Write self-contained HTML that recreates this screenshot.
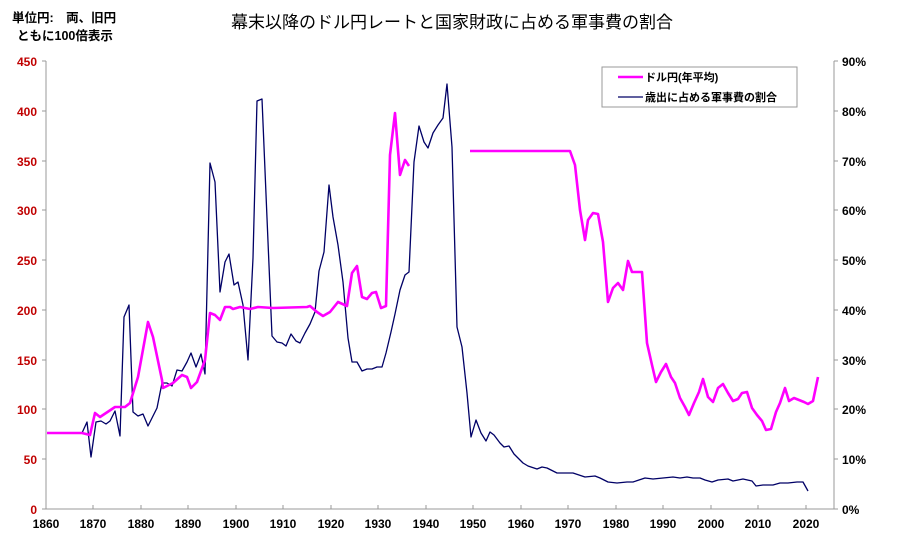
<!DOCTYPE html>
<html><head><meta charset="utf-8"><style>
body{margin:0;background:#fff;width:900px;height:550px;overflow:hidden}
text{font-family:"Liberation Sans","Noto Sans CJK JP",sans-serif}
</style></head><body>
<svg width="900" height="550" viewBox="0 0 900 550">
<text x="452" y="28" font-size="17" text-anchor="middle" fill="#000">幕末以降のドル円レートと国家財政に占める軍事費の割合</text>
<text x="12" y="22" font-size="12.5" font-weight="bold" fill="#000">単位円:　両、旧円</text>
<text x="17" y="40" font-size="12.5" font-weight="bold" fill="#000">ともに100倍表示</text>
<g stroke="#999" stroke-width="1" fill="none">
<line x1="46" y1="61" x2="46" y2="509"/><line x1="46" y1="509" x2="834" y2="509"/><line x1="834" y1="61" x2="834" y2="509"/>
</g>
<g stroke="#999" stroke-width="1">
<line x1="42" y1="61" x2="46" y2="61"/><line x1="42" y1="111" x2="46" y2="111"/><line x1="42" y1="161" x2="46" y2="161"/><line x1="42" y1="210" x2="46" y2="210"/><line x1="42" y1="260" x2="46" y2="260"/><line x1="42" y1="310" x2="46" y2="310"/><line x1="42" y1="360" x2="46" y2="360"/><line x1="42" y1="409" x2="46" y2="409"/><line x1="42" y1="459" x2="46" y2="459"/><line x1="42" y1="509" x2="46" y2="509"/>
<line x1="834" y1="61" x2="838" y2="61"/><line x1="834" y1="111" x2="838" y2="111"/><line x1="834" y1="161" x2="838" y2="161"/><line x1="834" y1="210" x2="838" y2="210"/><line x1="834" y1="260" x2="838" y2="260"/><line x1="834" y1="310" x2="838" y2="310"/><line x1="834" y1="360" x2="838" y2="360"/><line x1="834" y1="409" x2="838" y2="409"/><line x1="834" y1="459" x2="838" y2="459"/><line x1="834" y1="509" x2="838" y2="509"/>
<line x1="93" y1="509" x2="93" y2="505"/><line x1="141" y1="509" x2="141" y2="505"/><line x1="188" y1="509" x2="188" y2="505"/><line x1="236" y1="509" x2="236" y2="505"/><line x1="283" y1="509" x2="283" y2="505"/><line x1="331" y1="509" x2="331" y2="505"/><line x1="378" y1="509" x2="378" y2="505"/><line x1="426" y1="509" x2="426" y2="505"/><line x1="473" y1="509" x2="473" y2="505"/><line x1="521" y1="509" x2="521" y2="505"/><line x1="568" y1="509" x2="568" y2="505"/><line x1="616" y1="509" x2="616" y2="505"/><line x1="663" y1="509" x2="663" y2="505"/><line x1="711" y1="509" x2="711" y2="505"/><line x1="758" y1="509" x2="758" y2="505"/><line x1="806" y1="509" x2="806" y2="505"/>
</g>
<g font-size="12" font-weight="bold" fill="#c00000" text-anchor="end">
<text x="37" y="66">450</text><text x="37" y="116">400</text><text x="37" y="166">350</text><text x="37" y="215">300</text><text x="37" y="265">250</text><text x="37" y="315">200</text><text x="37" y="365">150</text><text x="37" y="414">100</text><text x="37" y="464">50</text><text x="37" y="514">0</text>
</g>
<g font-size="12" font-weight="bold" fill="#000">
<text x="842" y="66">90%</text><text x="842" y="116">80%</text><text x="842" y="166">70%</text><text x="842" y="215">60%</text><text x="842" y="265">50%</text><text x="842" y="315">40%</text><text x="842" y="365">30%</text><text x="842" y="414">20%</text><text x="842" y="464">10%</text><text x="842" y="514">0%</text>
</g>
<g font-size="12" font-weight="bold" fill="#000" text-anchor="middle">
<text x="46" y="528">1860</text><text x="93" y="528">1870</text><text x="141" y="528">1880</text><text x="188" y="528">1890</text><text x="236" y="528">1900</text><text x="283" y="528">1910</text><text x="331" y="528">1920</text><text x="378" y="528">1930</text><text x="426" y="528">1940</text><text x="473" y="528">1950</text><text x="521" y="528">1960</text><text x="568" y="528">1970</text><text x="616" y="528">1980</text><text x="663" y="528">1990</text><text x="711" y="528">2000</text><text x="758" y="528">2010</text><text x="806" y="528">2020</text>
</g>
<g fill="none" stroke-linejoin="round">
<polyline stroke="#000066" stroke-width="1.3" points="82,433 87,422 91,457 96,422 101,421 106,424 110,421 115,411 120,436 124,317 129,305 133,412 138,416 143,414 148,426 157,408 162,383 167,383 172,386 177,370 182,371 187,362 191,353 196,367 201,354 205,374 210,163 215,182 220,292 225,262 229,254 234,285 238,282 243,305 248,360 253,258 257,101 262,99 267,218 272,336 277,342 282,343 286,346 291,334 296,341 300,343 305,333 310,324 315,312 319,271 324,252 329,185 333,217 338,245 343,282 348,338 352,362 357,362 362,371 367,369 372,369 377,367 382,367 386,353 391,332 395,314 400,290 405,275 409,272 414,162 419,126 424,142 428,148 433,133 438,125 443,118 447,84 452,147 457,327 462,347 467,393 471,437 476,420 481,433 486,441 490,432 494,435 500,443 504,447 509,446 514,454 523,463 528,466 537,469 542,467 547,468 557,473 567,473 573,473 585,477 595,476 600,478 608,482 617,483 627,482 633,482 645,478 653,479 663,478 673,477 680,478 687,477 693,478 700,478 705,480 712,482 718,480 728,479 733,481 743,479 752,481 756,486 763,485 773,485 780,483 788,483 797,482 803,482 808,491"/>
<polyline stroke="#ff00ff" stroke-width="2.6" points="47,433 82,433 90,435 95,413 100,417 115,407 125,407 130,403 138,377 148,322 153,337 162,380 163,388 173,383 182,375 187,377 191,388 197,382 205,360 210,313 215,315 220,320 225,307 230,307 233,309 240,307 250,309 258,307 273,308 307,307 310,306 317,312 323,316 330,312 338,302 347,306 352,273 357,266 362,297 367,299 372,293 376,292 381,308 386,306 390,155 395,113 400,175 405,160 409,166"/>
<polyline stroke="#ff00ff" stroke-width="2.6" points="470,151 570,151 575,165 580,210 585,240 588,220 593,213 598,214 603,242 608,302 613,288 618,283 623,290 628,261 632,272 642,272 647,343 652,365 656,382 661,372 666,364 671,377 675,383 680,398 685,407 689,415 694,403 699,392 703,379 708,397 713,402 718,388 723,384 728,393 733,401 738,399 742,393 747,392 752,408 757,415 762,421 766,430 771,429 776,412 780,403 785,388 789,401 794,398 799,400 804,402 808,404 813,401 818,377"/>
</g>
<rect x="602" y="67" width="195" height="40" fill="#fff" stroke="#999" stroke-width="1"/>
<line x1="618" y1="77" x2="643" y2="77" stroke="#ff00ff" stroke-width="2.6"/>
<line x1="618" y1="97" x2="643" y2="97" stroke="#000066" stroke-width="1.3"/>
<text x="645" y="81" font-size="11" font-weight="bold" fill="#000">ドル円(年平均)</text>
<text x="645" y="101" font-size="11" font-weight="bold" fill="#000">歳出に占める軍事費の割合</text>
</svg>
</body></html>
